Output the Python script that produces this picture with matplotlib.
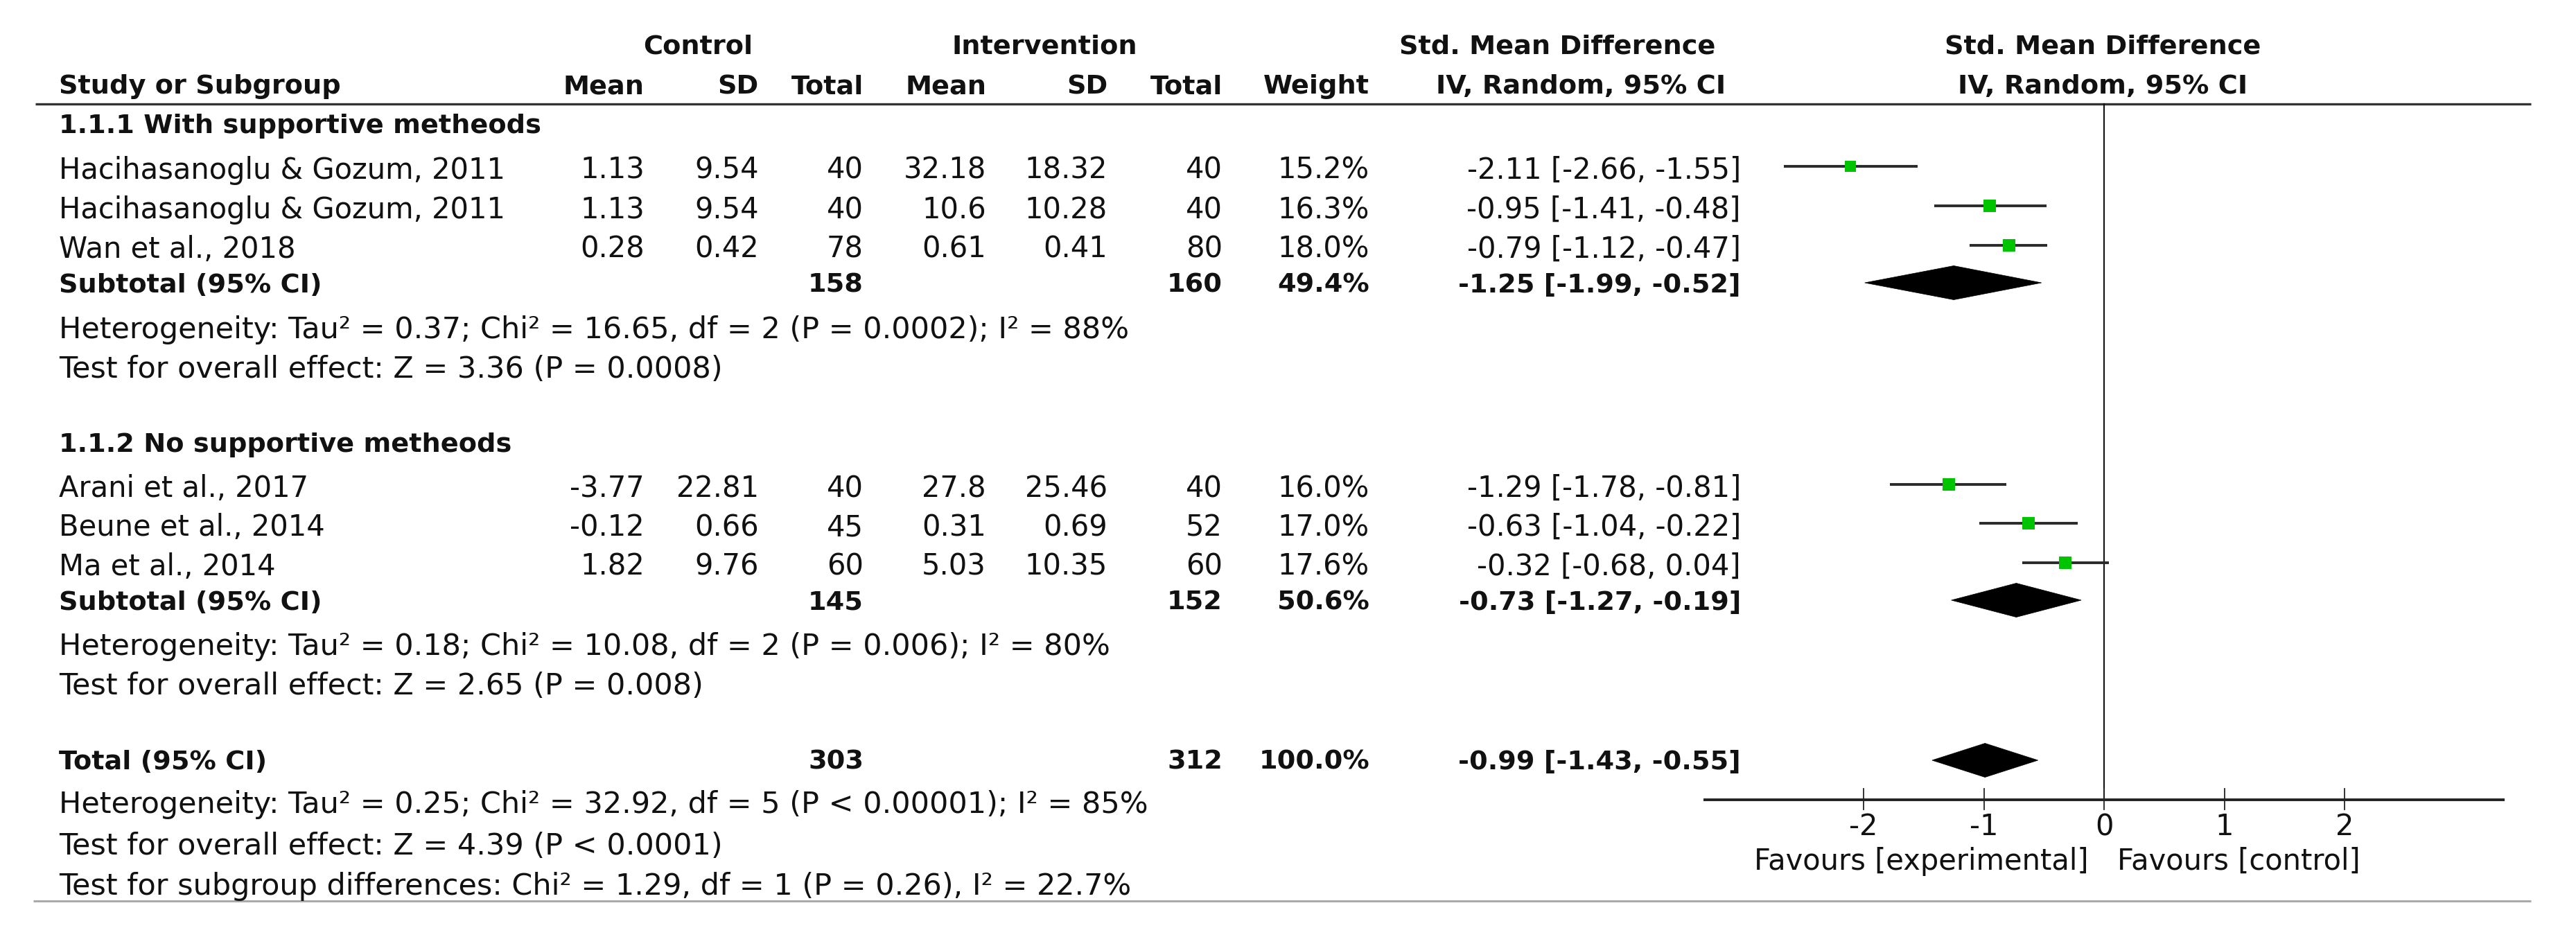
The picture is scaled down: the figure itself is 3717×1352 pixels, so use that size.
import matplotlib
matplotlib.use("Agg")
import matplotlib.pyplot as plt
from matplotlib.patches import Polygon

## data
study = ['Hacihasanoglu & Gozum, 2011', 'Hacihasanoglu & Gozum, 2011', 'Wan et al., 2018',
         'Arani et al., 2017', 'Beune et al., 2014', 'Ma et al., 2014']
group = [0, 0, 0, 1, 1, 1]
ctrl_mean = [1.13, 1.13, 0.28, -3.77, -0.12, 1.82]
ctrl_sd = [9.54, 9.54, 0.42, 22.81, 0.66, 9.76]
ctrl_n = [40, 40, 78, 40, 45, 60]
int_mean = [32.18, 10.6, 0.61, 27.8, 0.31, 5.03]
int_sd = [18.32, 10.28, 0.41, 25.46, 0.69, 10.35]
int_n = [40, 40, 80, 40, 52, 60]
weight = [15.2, 16.3, 18.0, 16.0, 17.0, 17.6]
smd = [-2.11, -0.95, -0.79, -1.29, -0.63, -0.32]
ci_lo = [-2.66, -1.41, -1.12, -1.78, -1.04, -0.68]
ci_hi = [-1.55, -0.48, -0.47, -0.81, -0.22, 0.04]

group_names = ['1.1.1 With supportive metheods', '1.1.2 No supportive metheods']
sub_ctrl_n = [158, 145]
sub_int_n = [160, 152]
sub_weight = [49.4, 50.6]
sub_smd = [-1.25, -0.73]
sub_lo = [-1.99, -1.27]
sub_hi = [-0.52, -0.19]
sub_het = ['Heterogeneity: Tau² = 0.37; Chi² = 16.65, df = 2 (P = 0.0002); I² = 88%',
           'Heterogeneity: Tau² = 0.18; Chi² = 10.08, df = 2 (P = 0.006); I² = 80%']
sub_test = ['Test for overall effect: Z = 3.36 (P = 0.0008)',
            'Test for overall effect: Z = 2.65 (P = 0.008)']

tot_ctrl_n, tot_int_n, tot_weight = 303, 312, 100.0
tot_smd, tot_lo, tot_hi = -0.99, -1.43, -0.55
tot_notes = ['Heterogeneity: Tau² = 0.25; Chi² = 32.92, df = 5 (P < 0.00001); I² = 85%',
             'Test for overall effect: Z = 4.39 (P < 0.0001)',
             'Test for subgroup differences: Chi² = 1.29, df = 1 (P = 0.26), I² = 22.7%']
ticks = [-2, -1, 0, 1, 2]

## layout (pixels)
W, H = 3717, 1352
FS = 30          # regular text
FS_B = 27.5      # bold text (DejaVu bold is wide)
FS_N = 31        # heterogeneity / test notes
x_name = 85
col_x = [930, 1095, 1246, 1423, 1598, 1764, 1976, 2512]
zero_px, unit_px = 3036, 173.5
study_base = [258, 315, 372, 717, 773, 830]
group_base = [192, 652]
sub_base = [422, 880]
het_base = [488, 945]
test_base = [545, 1002]
tot_base = 1110
notes_base = [1173, 1233, 1291]
axis_y = 1154

plt.rcParams['font.family'] = 'DejaVu Sans'
fig = plt.figure(figsize=(W / 100, H / 100), dpi=100)
ax = fig.add_axes([0, 0, 1, 1])
ax.set_xlim(0, W)
ax.set_ylim(H, 0)
ax.axis('off')

def txt(x, y, s, ha='right', bold=False, size=None):
    if size is None:
        size = FS_B if bold else FS
    ax.text(x, y, s, ha=ha, va='baseline', fontsize=size,
            fontweight='bold' if bold else 'normal', color='#111111')

### headers
txt(1007, 78, 'Control', ha='center', bold=True)
txt(1507, 78, 'Intervention', ha='center', bold=True)
txt(2247, 78, 'Std. Mean Difference', ha='center', bold=True)
txt(3034, 78, 'Std. Mean Difference', ha='center', bold=True)
txt(x_name, 135, 'Study or Subgroup', ha='left', bold=True)
for x, s in zip(col_x[:7], ['Mean', 'SD', 'Total', 'Mean', 'SD', 'Total', 'Weight']):
    txt(x, 135, s, bold=True)
txt(2281, 135, 'IV, Random, 95% CI', ha='center', bold=True)
txt(3034, 135, 'IV, Random, 95% CI', ha='center', bold=True)
ax.plot([51, 3652], [150, 150], color='#333333', lw=2.4, solid_capstyle='butt')
ax.plot([48, 3652], [1300, 1300], color='#aaaaaa', lw=2.2, solid_capstyle='butt')

### study rows
for i in range(len(study)):
    y = study_base[i]
    txt(x_name, y, study[i], ha='left')
    vals = [f"{ctrl_mean[i]:g}", f"{ctrl_sd[i]:g}", f"{ctrl_n[i]}",
            f"{int_mean[i]:g}", f"{int_sd[i]:g}", f"{int_n[i]}",
            f"{weight[i]:.1f}%", f"{smd[i]:.2f} [{ci_lo[i]:.2f}, {ci_hi[i]:.2f}]"]
    for x, s in zip(col_x, vals):
        txt(x, y, s)

### subgroup rows
for g in range(2):
    txt(x_name, group_base[g], group_names[g], ha='left', bold=True)
    y = sub_base[g]
    txt(x_name, y, 'Subtotal (95% CI)', ha='left', bold=True)
    txt(col_x[2], y, f"{sub_ctrl_n[g]}", bold=True)
    txt(col_x[5], y, f"{sub_int_n[g]}", bold=True)
    txt(col_x[6], y, f"{sub_weight[g]:.1f}%", bold=True)
    txt(col_x[7], y, f"{sub_smd[g]:.2f} [{sub_lo[g]:.2f}, {sub_hi[g]:.2f}]", bold=True)
    txt(x_name, het_base[g], sub_het[g], ha='left', size=FS_N)
    txt(x_name, test_base[g], sub_test[g], ha='left', size=FS_N)

### total
txt(x_name, tot_base, 'Total (95% CI)', ha='left', bold=True)
txt(col_x[2], tot_base, f"{tot_ctrl_n}", bold=True)
txt(col_x[5], tot_base, f"{tot_int_n}", bold=True)
txt(col_x[6], tot_base, f"{tot_weight:.1f}%", bold=True)
txt(col_x[7], tot_base, f"{tot_smd:.2f} [{tot_lo:.2f}, {tot_hi:.2f}]", bold=True)
for y, s in zip(notes_base, tot_notes):
    txt(x_name, y, s, ha='left', size=FS_N)

### forest panel: x in SMD units, y in pixels
fx = fig.add_axes([0, 0, 1, 1])
fx.set_xlim(-zero_px / unit_px, (W - zero_px) / unit_px)
fx.set_ylim(H, 0)
fx.axis('off')
fx.patch.set_alpha(0)

fx.plot([0, 0], [150, axis_y], color='#111111', lw=1.5)
fx.plot([-3.33, 3.33], [axis_y, axis_y], color='#222222', lw=2.8, solid_capstyle='butt')
for t in ticks:
    fx.plot([t, t], [axis_y - 16, axis_y + 14], color='#222222', lw=1.3)
    fx.text(t, 1205, f"{t}", ha='center', va='baseline', fontsize=FS, color='#111111')
fx.text(-0.13, 1255, 'Favours [experimental]', ha='right', va='baseline', fontsize=FS, color='#111111')
fx.text(0.11, 1255, 'Favours [control]', ha='left', va='baseline', fontsize=FS, color='#111111')

for i in range(len(smd)):
    yc = study_base[i] - 18
    fx.plot([ci_lo[i], ci_hi[i]], [yc, yc], color='#2a2a2a', lw=2.8, solid_capstyle='butt', zorder=2)
    fx.plot(smd[i], yc, marker='s', ms=12.5 * (weight[i] / 16.5) ** 0.5, color='#00c400',
            markeredgewidth=0, zorder=3)

def diamond(m, lo, hi, yc, h=24.5):
    fx.add_patch(Polygon([(lo, yc), (m, yc - h), (hi, yc), (m, yc + h)], closed=True,
                         facecolor='black', edgecolor='black', lw=0.5, zorder=3))

for g in range(2):
    diamond(sub_smd[g], sub_lo[g], sub_hi[g], sub_base[g] - 14)
diamond(tot_smd, tot_lo, tot_hi, tot_base - 13)

fig.savefig('out.png', dpi=100, facecolor='white')
